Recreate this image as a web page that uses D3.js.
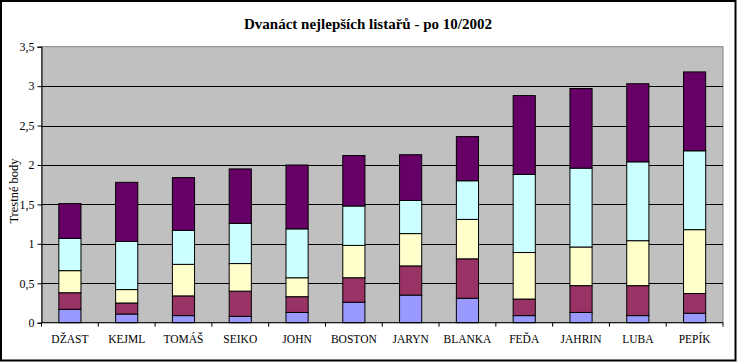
<!DOCTYPE html>
<html>
<head>
<meta charset="utf-8">
<script src="https://cdn.jsdelivr.net/npm/d3@7"></script>
<style>
  html, body { margin: 0; padding: 0; background: #ffffff; }
  svg { display: block; }
</style>
</head>
<body>
<svg id="chart" width="737" height="362"></svg>
<script>
// ---- data ----
const categories = ["DŽAST", "KEJML", "TOMÁŠ", "SEIKO", "JOHN", "BOSTON", "JARYN", "BLANKA", "FEĎA", "JAHRIN", "LUBA", "PEPÍK"];
const seriesKeys = ["s1", "s2", "s3", "s4", "s5"];
const s1 = [0.17, 0.11, 0.09, 0.08, 0.13, 0.26, 0.35, 0.31, 0.09, 0.13, 0.09, 0.12];
const s2 = [0.21, 0.14, 0.25, 0.32, 0.20, 0.31, 0.37, 0.50, 0.21, 0.34, 0.38, 0.25];
const s3 = [0.28, 0.17, 0.40, 0.35, 0.24, 0.41, 0.41, 0.50, 0.59, 0.49, 0.57, 0.81];
const s4 = [0.41, 0.61, 0.43, 0.51, 0.62, 0.50, 0.42, 0.49, 0.99, 1.00, 1.00, 1.00];
const s5 = [0.44, 0.75, 0.67, 0.69, 0.81, 0.64, 0.58, 0.56, 1.00, 1.01, 0.99, 1.00];
const seriesColors = ["#9999ff", "#993366", "#ffffcc", "#ccffff", "#660066"];
const yTicks = [0, 0.5, 1, 1.5, 2, 2.5, 3, 3.5];
const titleText = "Dvanáct nejlepších listařů - po 10/2002";
const yTitle = "Trestné body";

// ---- layout ----
const FONT = "Liberation Serif";
const svg = d3.select("#chart");
const W = 737, H = 362;
const plot = { left: 41.5, right: 723, top: 46.7, bottom: 322.7 };

const rows = categories.map((c, i) => ({ cat: c, s1: s1[i], s2: s2[i], s3: s3[i], s4: s4[i], s5: s5[i] }));
const stacked = d3.stack().keys(seriesKeys)(rows);

const x = d3.scaleBand().domain(categories).range([plot.left, plot.right])
  .paddingInner(0.61).paddingOuter(0.305);
const xSlots = d3.scaleBand().domain(categories).range([plot.left, plot.right]).padding(0);
const y = d3.scaleLinear().domain([0, 3.5]).range([plot.bottom, plot.top]);
const color = d3.scaleOrdinal().domain(seriesKeys).range(seriesColors);

// outer frame
svg.append("rect").attr("x", 1).attr("y", 1).attr("width", W - 2.5).attr("height", H - 2.5)
  .attr("fill", "#ffffff").attr("stroke", "#000").attr("stroke-width", 2);

// plot background
svg.append("rect").attr("x", plot.left).attr("y", plot.top)
  .attr("width", plot.right - plot.left).attr("height", plot.bottom - plot.top)
  .attr("fill", "#c0c0c0").attr("stroke", "#808080").attr("stroke-width", 1);

// gridlines
svg.append("g").selectAll("line").data(yTicks.filter(t => t > 0 && t < 3.5)).join("line")
  .attr("x1", plot.left).attr("x2", plot.right)
  .attr("y1", d => Math.round(y(d)) + 0.5).attr("y2", d => Math.round(y(d)) + 0.5)
  .attr("stroke", "#000").attr("stroke-width", 1);

// bars
svg.append("g").selectAll("g").data(stacked).join("g")
  .attr("fill", d => color(d.key))
  .selectAll("rect").data(d => d).join("rect")
  .attr("x", d => x(d.data.cat))
  .attr("width", x.bandwidth())
  .attr("y", d => y(d[1]))
  .attr("height", d => y(d[0]) - y(d[1]))
  .attr("stroke", "#000").attr("stroke-width", 1);

// y axis
const yAxis = d3.axisLeft(y).tickValues(yTicks).tickSize(4).tickPadding(3)
  .tickFormat(d => String(d).replace(".", ","));
const gy = svg.append("g").attr("transform", `translate(${plot.left},0)`).call(yAxis)
  .attr("font-family", FONT).attr("font-size", 12);
gy.select(".domain").attr("stroke", "#000");
gy.selectAll(".tick line").attr("stroke", "#000");
gy.selectAll(".tick text").attr("fill", "#000");

// x axis: baseline, boundary ticks, labels
svg.append("line").attr("x1", plot.left).attr("x2", plot.right)
  .attr("y1", plot.bottom).attr("y2", plot.bottom).attr("stroke", "#000");
const bounds = categories.map(c => xSlots(c)).concat([xSlots(categories[categories.length - 1]) + xSlots.bandwidth()]);
svg.append("g").selectAll("line").data(bounds).join("line")
  .attr("x1", d => d).attr("x2", d => d)
  .attr("y1", plot.bottom).attr("y2", plot.bottom + 4)
  .attr("stroke", "#000");
svg.append("g").attr("font-family", FONT).attr("font-size", 11.5)
  .selectAll("text").data(categories).join("text")
  .attr("x", d => xSlots(d) + xSlots.bandwidth() / 2)
  .attr("y", 343)
  .attr("text-anchor", "middle")
  .text(d => d);

// title
svg.append("text").attr("x", 368).attr("y", 28.5).attr("text-anchor", "middle")
  .attr("font-family", FONT)
  .attr("font-size", 15).attr("font-weight", "bold").text(titleText);

// y title
svg.append("text").attr("transform", "translate(18,191) rotate(-90)")
  .attr("font-family", FONT)
  .attr("text-anchor", "middle").attr("font-size", 12.5).text(yTitle);
</script>
</body>
</html>
